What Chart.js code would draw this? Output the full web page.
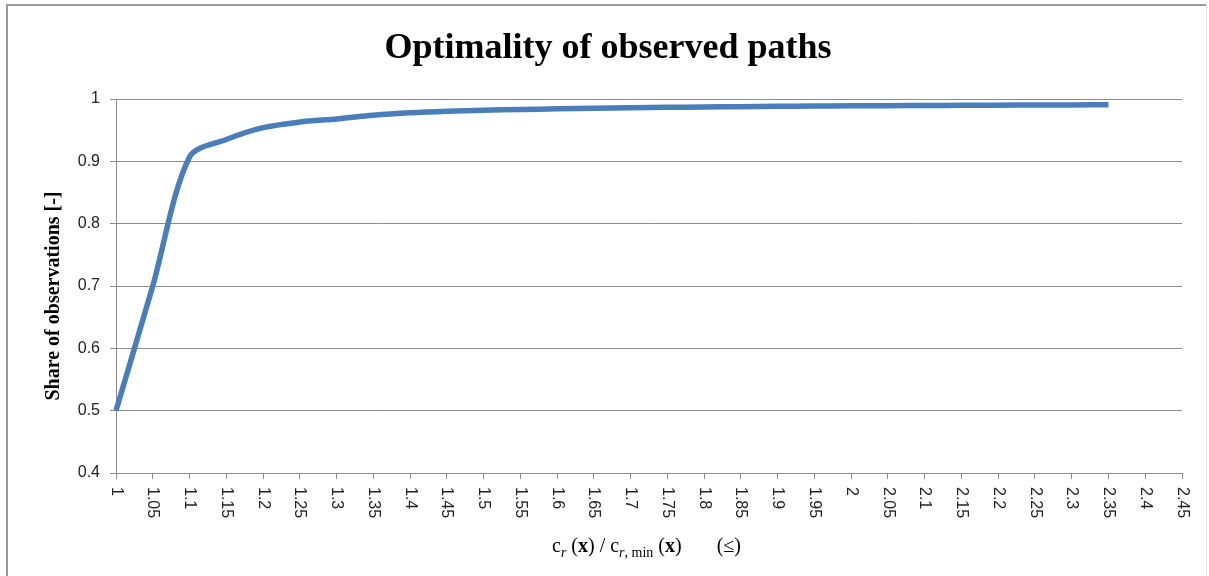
<!DOCTYPE html>
<html>
<head>
<meta charset="utf-8">
<script src="https://cdn.jsdelivr.net/npm/chart.js@4.4.1/dist/chart.umd.min.js"></script>
<style>
  html, body { margin: 0; padding: 0; background: #ffffff; }
  #wrap { position: relative; width: 1209px; height: 576px; }
  canvas { display: block; }
</style>
</head>
<body>
<div id="wrap"><canvas id="c" width="1209" height="576"></canvas></div>
<script>
// ---- data ----
const xLabels = ['1','1.05','1.1','1.15','1.2','1.25','1.3','1.35','1.4','1.45','1.5','1.55','1.6','1.65','1.7','1.75','1.8','1.85','1.9','1.95','2','2.05','2.1','2.15','2.2','2.25','2.3','2.35','2.4','2.45'];
const shareValues = [0.500, 0.700, 0.907, 0.935, 0.954, 0.963, 0.968, 0.974, 0.978, 0.9805, 0.982, 0.9832, 0.9842, 0.9851, 0.9859, 0.9866, 0.9872, 0.9877, 0.9882, 0.9886, 0.9890, 0.9893, 0.9896, 0.9899, 0.9901, 0.9903, 0.9905, 0.9907];
const yTicks = [0.4, 0.5, 0.6, 0.7, 0.8, 0.9, 1];
const titleText = 'Optimality of observed paths';
const yTitleText = 'Share of observations [-]';

const GRID = '#8c8c8c';
const SERIF = '"Liberation Serif", "Times New Roman", serif';
const SANS = '"Liberation Sans", Arial, sans-serif';

const decor = {
  id: 'decor',
  beforeDraw(chart) {
    const ctx = chart.ctx;
    ctx.save();
    ctx.fillStyle = '#ffffff';
    ctx.fillRect(0, 0, chart.width, chart.height);
    ctx.strokeStyle = '#9a9a9a';
    ctx.lineWidth = 2;
    ctx.beginPath();
    ctx.moveTo(7, 600); ctx.lineTo(7, 5); ctx.lineTo(1206, 5);
    ctx.stroke();
    ctx.strokeStyle = '#e4e4e4';
    ctx.lineWidth = 1;
    ctx.beginPath();
    ctx.moveTo(1206.5, 5); ctx.lineTo(1206.5, 600);
    ctx.stroke();
    ctx.restore();
  },
  afterDraw(chart) {
    const ctx = chart.ctx;
    const xs = chart.scales.x;
    const area = chart.chartArea;
    ctx.save();
    ctx.fillStyle = '#000';
    ctx.font = 'bold 36px ' + SERIF;
    ctx.textAlign = 'center';
    ctx.textBaseline = 'alphabetic';
    ctx.fillText(titleText, 608, 58);
    ctx.save();
    ctx.translate(59, (area.top + area.bottom) / 2 + 10);
    ctx.rotate(-Math.PI / 2);
    ctx.font = 'bold 20px ' + SERIF;
    ctx.textAlign = 'center';
    ctx.fillText(yTitleText, 0, 0);
    ctx.restore();
    ctx.font = '16px ' + SANS;
    ctx.fillStyle = '#222';
    ctx.textAlign = 'left';
    ctx.textBaseline = 'middle';
    xs.ticks.forEach((t, i) => {
      const px = xs.getPixelForTick(i);
      ctx.save();
      ctx.translate(px, area.bottom + 14);
      ctx.rotate(Math.PI / 2);
      ctx.fillText(xLabels[i], 0, 0);
      ctx.restore();
    });
    const parts = [
      {t: 'c', f: '20px ' + SERIF, dy: 0},
      {t: 'r', f: 'italic 14px ' + SERIF, dy: 5},
      {t: ' (', f: '20px ' + SERIF, dy: 0},
      {t: 'x', f: 'bold 20px ' + SERIF, dy: 0},
      {t: ') / c', f: '20px ' + SERIF, dy: 0},
      {t: 'r', f: 'italic 14px ' + SERIF, dy: 5},
      {t: ', min', f: '14px ' + SERIF, dy: 5},
      {t: ' (', f: '20px ' + SERIF, dy: 0},
      {t: 'x', f: 'bold 20px ' + SERIF, dy: 0},
      {t: ')', f: '20px ' + SERIF, dy: 0},
      {t: '       (≤)', f: '20px ' + SERIF, dy: 0}
    ];
    ctx.fillStyle = '#000';
    ctx.textAlign = 'left';
    ctx.textBaseline = 'alphabetic';
    let x = 552;
    parts.forEach(p => {
      ctx.font = p.f;
      ctx.fillText(p.t, x, 552 + p.dy);
      x += ctx.measureText(p.t).width;
    });
    ctx.restore();
  }
};

new Chart(document.getElementById('c'), {
  type: 'line',
  data: {
    labels: xLabels,
    datasets: [{
      data: shareValues,
      borderColor: '#4A7EBB',
      borderWidth: 5.5,
      pointRadius: 0,
      tension: 0.3,
      borderCapStyle: 'butt',
      fill: false
    }]
  },
  options: {
    responsive: false,
    animation: false,
    devicePixelRatio: 1,
    layout: { padding: { left: 0, top: 99, right: 27, bottom: 0 } },
    plugins: { legend: { display: false }, tooltip: { enabled: false }, title: { display: false } },
    scales: {
      x: {
        type: 'category',
        offset: false,
        afterFit: s => { s.height = 103; },
        grid: { display: true, drawOnChartArea: false, drawTicks: true, tickLength: 6, color: GRID, lineWidth: 1 },
        border: { display: true, color: GRID, width: 1 },
        ticks: { display: false, autoSkip: false }
      },
      y: {
        min: 0.4,
        max: 1,
        afterFit: s => { s.width = 116; },
        afterBuildTicks: s => { s.ticks = yTicks.map(v => ({ value: v })); },
        grid: { color: GRID, lineWidth: 1, drawTicks: true, tickLength: 6 },
        border: { display: true, color: GRID, width: 1 },
        ticks: {
          color: '#222',
          font: { family: SANS, size: 16 },
          padding: 10,
          callback: v => String(v)
        }
      }
    }
  },
  plugins: [decor]
});
</script>
</body>
</html>
